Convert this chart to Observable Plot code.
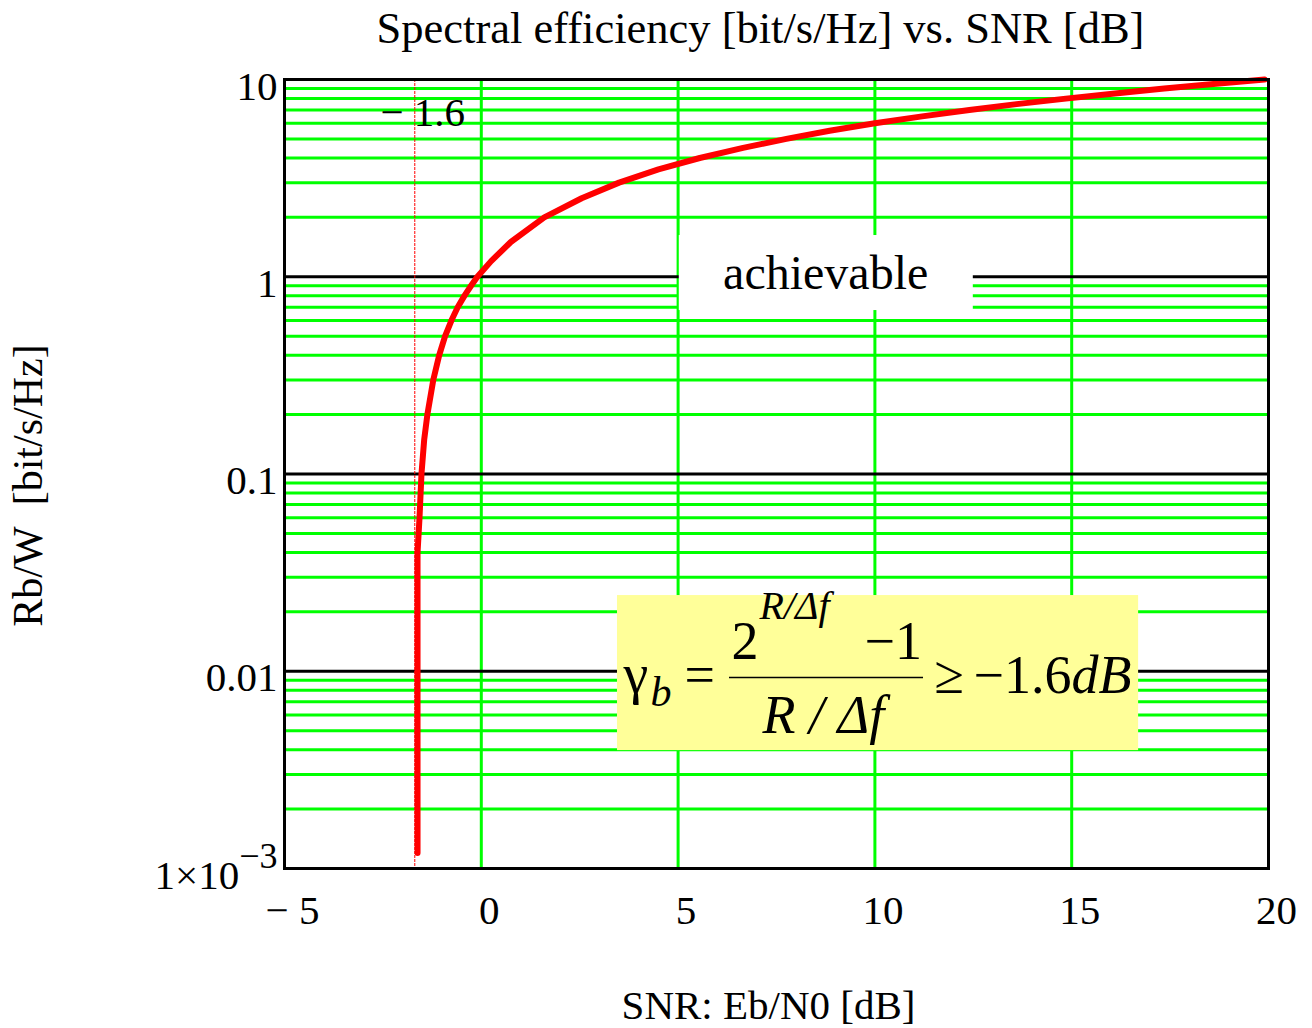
<!DOCTYPE html>
<html>
<head>
<meta charset="utf-8">
<script src="https://cdn.jsdelivr.net/npm/d3@7"></script>
<script src="https://cdn.jsdelivr.net/npm/@observablehq/plot@0.6"></script>
<style>
  html, body { margin: 0; padding: 0; background: #fff; }
</style>
</head>
<body>
<div id="chart"></div>
<script>
// ---- data ----
const snrDb = [-1.62, -1.62, -1.57, -1.52, -1.45, -1.37, -1.22, -1.07, -0.92, -0.76, -0.60, -0.43, -0.26, -0.10,
               0.25, 0.75, 1.60, 2.55, 3.50, 4.50, 5.55, 6.65, 7.75, 8.85, 10.0, 11.2, 12.4, 13.6, 14.85, 16.1, 17.35, 18.6, 19.9];
const rate  = [0.0012, 0.04, 0.06, 0.1, 0.15, 0.2, 0.3, 0.4, 0.5, 0.6, 0.7, 0.8, 0.9, 1.0,
               1.2, 1.5, 2.0, 2.5, 3.0, 3.5, 4.0, 4.5, 5.0, 5.5, 6.0, 6.5, 7.0, 7.5, 8.0, 8.5, 9.0, 9.5, 10];

const xTicks = [-5, 0, 5, 10, 15, 20];
const xGrid = [0, 5, 10, 15];
const yDecades = [0.001, 0.01, 0.1, 1, 10];
const yTickLabels = ["1×10", "0.01", "0.1", "1", "10"];
const yMinorFactors = [2, 3, 4, 5, 6, 7, 8, 9];
const shannonLimit = [-1.69];
const shannonLabel = "− 1.6";

const titleText = "Spectral efficiency [bit/s/Hz] vs. SNR [dB]";
const xLabel = "SNR: Eb/N0 [dB]";
const yLabel = "Rb/W\u2002[bit/s/Hz]";

// annotation boxes (data coordinates)
const achievableBox = [{x1: 5.03, x2: 12.5, y1: 0.674, y2: 1.618}];
const achievableText = [{x: 8.75, y: 1.04, text: "achievable"}];
const formulaBox = [{x1: 3.46, x2: 16.70, y1: 0.00396, y2: 0.0242}];
const formulaAnchor = [{x: 3.46, y: 0.0242}];
const fractionBar = [{x1: 6.306, x2: 11.235, y: 0.0093}];

// ---- build ----
const curve = snrDb.map((x, i) => ({x, y: rate[i]}));
const yMinor = yDecades.slice(0, -1).flatMap(d => yMinorFactors.map(f => +(d * f).toPrecision(3)));
const yLabelMap = new Map(yDecades.map((d, i) => [d, yTickLabels[i]]));

const serif = "'Liberation Serif', 'Times New Roman', serif";

function piece(text, dx, dy, fontSize, italic) {
  return Plot.text(formulaAnchor, {
    x: "x", y: "y", text: () => text, dx, dy,
    textAnchor: "start", lineAnchor: "bottom",
    fontSize, fontStyle: italic ? "italic" : "normal", fill: "black"
  });
}

const chart = Plot.plot({
  width: 1312,
  height: 1028,
  marginLeft: 284,
  marginRight: 44,
  marginTop: 79,
  marginBottom: 160,
  style: {background: "white", fontFamily: serif, fontSize: "40px", overflow: "visible"},
  x: {domain: [-5, 20], label: null},
  y: {type: "log", domain: [0.001, 10], label: null},
  marks: [
    Plot.ruleY(yMinor, {stroke: "#00ff00", strokeWidth: 3}),
    Plot.ruleX(xGrid, {stroke: "#00ff00", strokeWidth: 3}),
    Plot.ruleY(yDecades, {stroke: "black", strokeWidth: 3}),
    Plot.rect(achievableBox, {x1: "x1", x2: "x2", y1: "y1", y2: "y2", fill: "white"}),
    Plot.rect(formulaBox, {x1: "x1", x2: "x2", y1: "y1", y2: "y2", fill: "#ffff99"}),
    Plot.ruleX(shannonLimit, {stroke: "#ff0000", strokeWidth: 1, strokeDasharray: "3,1"}),
    Plot.line(curve, {x: "x", y: "y", stroke: "#ff0000", strokeWidth: 6, strokeLinejoin: "round"}),
    Plot.frame({stroke: "black", strokeWidth: 3}),
    Plot.axisX(xTicks, {tickSize: 0, tickPadding: 26, dx: 8, fontSize: 41, label: null,
      tickFormat: d => d < 0 ? "− " + Math.abs(d) : String(d)}),
    Plot.axisY(yDecades, {tickSize: 0, tickPadding: 7, dy: 7, fontSize: 41, label: null,
      tickFormat: d => yLabelMap.get(d)}),
    Plot.text(shannonLimit, {x: d => d, frameAnchor: "top", lineAnchor: "middle", dy: 33, dx: 8,
      text: () => shannonLabel, fontSize: 41}),
    Plot.text([titleText], {frameAnchor: "top", textAnchor: "middle", dx: -16, dy: -37, lineAnchor: "bottom", fontSize: 44.5}),
    Plot.text([xLabel], {frameAnchor: "bottom", textAnchor: "middle", dx: -8, dy: 150, lineAnchor: "bottom", fontSize: 41}),
    Plot.text([yLabel], {frameAnchor: "left", textAnchor: "middle", lineAnchor: "middle", rotate: -90,
      dx: -256, dy: 11.5, fontSize: 42}),
    Plot.text(achievableText, {x: "x", y: "y", text: "text", fontSize: 48}),
    // formula
    piece("γ", 6, 97, 56, false),
    piece("b", 33, 110, 42, true),
    piece("=", 67, 97, 54, false),
    piece("2", 114, 63, 54, false),
    piece("R/Δf", 142, 23, 40, true),
    piece("−1", 247, 63, 54, false),
    Plot.ruleY(fractionBar, {y: "y", x1: "x1", x2: "x2", stroke: "black", strokeWidth: 1.5}),
    piece("R / Δf", 145, 137, 54, true),
    piece("≥", 317, 97, 54, false),
    piece("−1.6", 356, 97, 54, false),
    piece("dB", 454, 97, 54, true)
  ]
});

// superscript exponent on the 1×10 tick label
chart.querySelectorAll("text").forEach(t => {
  if (t.textContent === "1×10") {
    const ts = document.createElementNS("http://www.w3.org/2000/svg", "tspan");
    ts.setAttribute("dy", "-21");
    ts.setAttribute("font-size", "36");
    ts.textContent = "−3";
    t.appendChild(ts);
  }
});

document.getElementById("chart").appendChild(chart);
</script>
</body>
</html>
